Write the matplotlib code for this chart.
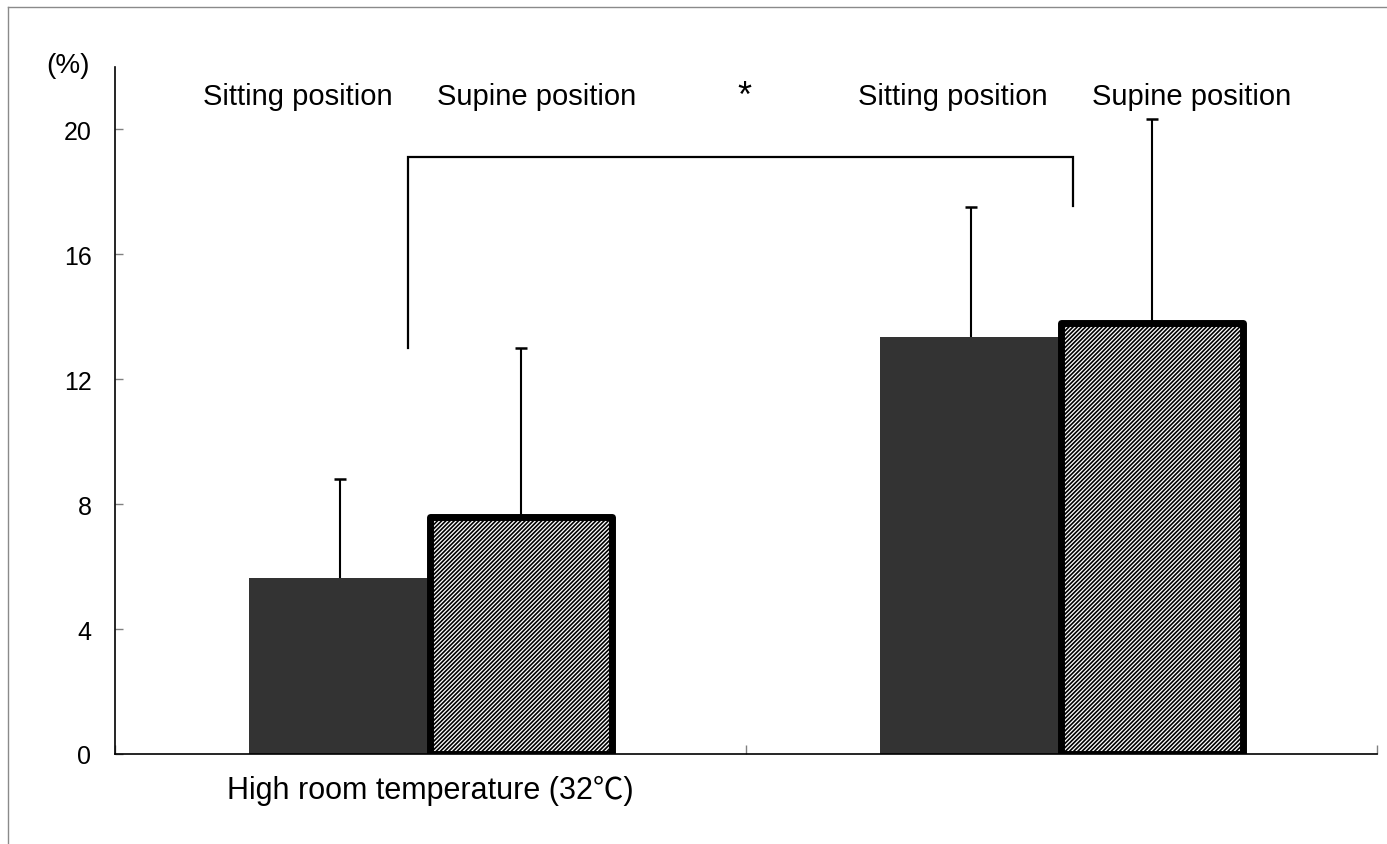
import matplotlib
matplotlib.use("Agg")
import matplotlib.pyplot as plt
from matplotlib.lines import Line2D
import matplotlib.transforms as mtransforms
import numpy as np

plt.rcParams['font.family'] = ['Liberation Sans', 'Noto Sans CJK JP', 'DejaVu Sans']
plt.rcParams['hatch.linewidth'] = 1.2

# ---- data ----
categories = ["High room temperature (32℃)", ""]
series_names = ["Sitting position", "Supine position"]
sitting_mean = [5.64, 13.35]
sitting_sd = [3.18, 4.18]
supine_mean = [7.59, 13.79]
supine_sd = [5.41, 6.53]
yticks = [0, 4, 8, 12, 16, 20]
y_unit = "(%)"
significance = "*"
# bracket: left leg bottom, right leg bottom, top level
bracket_levels = [13.0, 17.55, 19.13]

# ---- layout ----
W, H = 1387, 845
fig = plt.figure(figsize=(W / 100, H / 100), dpi=100)
ax = fig.add_axes([115 / W, 1 - 755 / H, (1377 - 115) / W, (755 - 68) / H])
ax.set_xlim(0, 2)
ax.set_ylim(0, 22)

centers = np.arange(len(categories)) + 0.5
bw = 0.287
x_sit = centers - bw / 2
x_sup = centers + bw / 2

ax.bar(x_sit, sitting_mean, width=bw, color='#333333', linewidth=0, zorder=2)
ax.bar(x_sup, supine_mean, width=bw, facecolor='white', edgecolor='black',
       linewidth=5, hatch='////////', joinstyle='round', zorder=3)

# upper-only error bars
for xs, m, sd in [(x_sit, sitting_mean, sitting_sd), (x_sup, supine_mean, supine_sd)]:
    m = np.asarray(m)
    top = m + np.asarray(sd)
    ax.vlines(xs, m, top, colors='black', linewidth=1.5, zorder=4)
    ax.plot(xs, top, ls='none', marker='_', markersize=8.6, markeredgewidth=1.8,
            color='black', zorder=4)

# significance bracket
bx_left, bx_right = 0.464, 1.518
ax.plot([bx_left, bx_left, bx_right, bx_right],
        [bracket_levels[0], bracket_levels[2], bracket_levels[2], bracket_levels[1]],
        color='black', lw=1.6, solid_joinstyle='miter', zorder=4)

# labels above bars
top_labels = [series_names[0], series_names[1], significance, series_names[0], series_names[1]]
top_x = [0.290, 0.668, 0.998, 1.327, 1.706]
for lab, xx in zip(top_labels, top_x):
    fs = 26 if lab == significance else 21
    yy = 20.75 if lab == significance else 20.83
    ax.text(xx, yy, lab, ha='center', va='baseline', fontsize=fs, color='black')

# category labels under axis
trans = mtransforms.blended_transform_factory(ax.transData, ax.transAxes)
for c, lab in zip(centers, categories):
    if lab:
        ax.text(c, -44 / 687, lab, transform=trans, ha='center', va='baseline',
                fontsize=22, color='black')

# axes styling
for s in ['top', 'right']:
    ax.spines[s].set_visible(False)
for s in ['left', 'bottom']:
    ax.spines[s].set_linewidth(1.2)
    ax.spines[s].set_color('black')
    ax.spines[s].set_zorder(5)

ax.set_yticks(yticks)
ax.set_yticklabels([str(v) for v in yticks])
ax.tick_params(axis='y', direction='in', length=6, width=1, color='#808080',
               labelsize=18, pad=17, labelcolor='black')
ax.set_xticks([0, 1, 2])
ax.set_xticklabels([])
ax.tick_params(axis='x', direction='in', length=6.5, width=1, color='#808080')

fig.text(68.5 / W, 1 - 73 / H, y_unit, ha='center', va='baseline', fontsize=20)

# outer frame (partially visible)
fig.add_artist(Line2D([8 / W, 8 / W], [0, 1 - 8 / H], transform=fig.transFigure,
                      color='#8a8a8a', lw=1))
fig.add_artist(Line2D([8 / W, 1], [1 - 8 / H, 1 - 8 / H], transform=fig.transFigure,
                      color='#8a8a8a', lw=1))

fig.savefig('out.png', dpi=100)
